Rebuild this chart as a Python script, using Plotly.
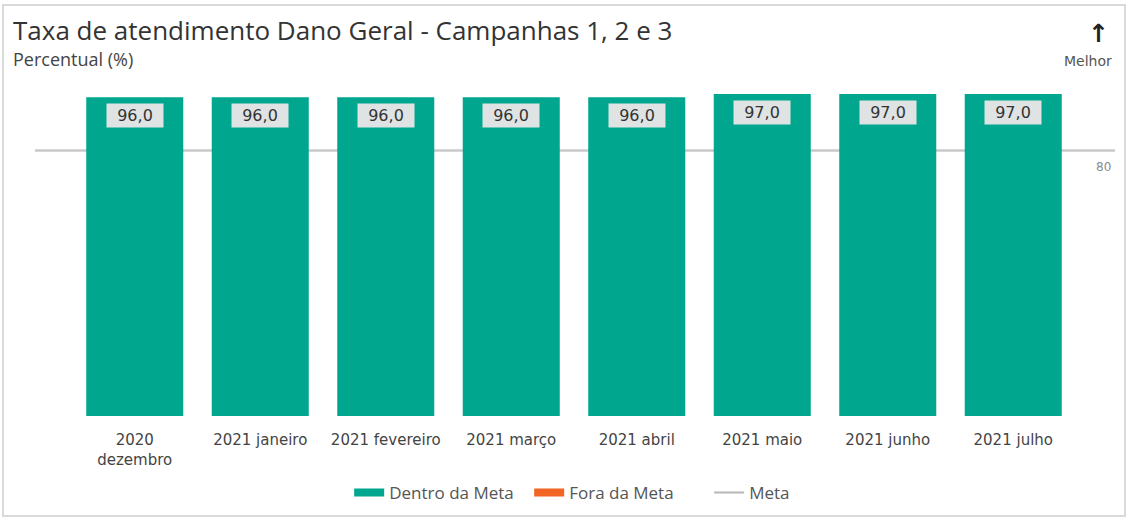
import plotly.graph_objects as go

categories = ["2020<br>dezembro", "2021 janeiro", "2021 fevereiro", "2021 março",
              "2021 abril", "2021 maio", "2021 junho", "2021 julho"]
dentro_values = [96.0, 96.0, 96.0, 96.0, 96.0, 97.0, 97.0, 97.0]
meta_value = 80
labels = [f"{v:.1f}".replace(".", ",") for v in dentro_values]

W, H = 1128, 519
ml, mr, mt, mb = 72, 52, 84, 103
pw, ph = W - ml - mr, H - mt - mb

def px_x(px):
    return (px - ml) / pw

def px_y(py):
    return (H - mb - py) / ph

TEAL = "#00a78e"
ORANGE = "#f26522"
fig = go.Figure()
fig.add_trace(go.Bar(x=categories, y=dentro_values, name="Dentro da Meta",
                     marker=dict(color=TEAL, line=dict(width=0)), hoverinfo="x+y",
                     showlegend=False, legendgroup="d"))
fig.add_trace(go.Scatter(x=[None], y=[None], mode="lines", name="Dentro da Meta",
                         line=dict(color=TEAL, width=8), legendgroup="d"))
fig.add_trace(go.Scatter(x=[None], y=[None], mode="lines", name="Fora da Meta",
                         line=dict(color=ORANGE, width=8)))
fig.add_trace(go.Scatter(x=[None], y=[None], mode="lines", name="Meta",
                         line=dict(color="#b5b5b5", width=2)))

for c, v, t in zip(categories, dentro_values, labels):
    fig.add_annotation(x=c, y=v, text=t, showarrow=False, yshift=-18.5,
                       bgcolor="#dfe3e3", borderpad=0, width=56, height=23,
                       font=dict(family="DejaVu Sans", size=16, color="#333333"))

# Meta line
fig.add_shape(type="line", xref="paper", yref="y", x0=px_x(35), x1=px_x(1115),
              y0=meta_value, y1=meta_value, line=dict(color="#c9c9c9", width=2.5),
              layer="below")
fig.add_annotation(xref="paper", yref="y", x=px_x(1103), y=meta_value, yshift=-17,
                   xanchor="center", yanchor="middle",
                   text=str(meta_value), showarrow=False,
                   font=dict(family="DejaVu Sans", size=12, color="#8a8a8a"))

# Card border
fig.add_shape(type="rect", xref="paper", yref="paper", x0=px_x(3), x1=px_x(1125),
              y0=px_y(516), y1=px_y(5), line=dict(color="#d9d9d9", width=2),
              layer="below")

# Title & subtitle
fig.add_annotation(xref="paper", yref="paper", x=px_x(11), y=px_y(30),
                   xanchor="left", yanchor="middle",
                   text="Taxa de atendimento Dano Geral - Campanhas 1, 2 e 3",
                   showarrow=False, font=dict(family="Open Sans", size=26, color="#333333"))
fig.add_annotation(xref="paper", yref="paper", x=px_x(11), y=px_y(59),
                   xanchor="left", yanchor="middle",
                   text="Percentual (%)", showarrow=False,
                   font=dict(family="Open Sans", size=18, color="#444444"))
fig.add_annotation(xref="paper", yref="paper", x=px_x(1098), y=px_y(33),
                   xanchor="center", yanchor="middle",
                   text="<b>↑</b>", showarrow=False,
                   font=dict(family="DejaVu Sans", size=25, color="#222222"))
fig.add_annotation(xref="paper", yref="paper", x=px_x(1088), y=px_y(61),
                   xanchor="center", yanchor="middle",
                   text="Melhor", showarrow=False,
                   font=dict(family="DejaVu Sans", size=14, color="#555555"))

fig.update_layout(
    width=W, height=H,
    margin=dict(l=ml, r=mr, t=mt, b=mb, autoexpand=False),
    paper_bgcolor="white", plot_bgcolor="white",
    barmode="group", bargap=0.227,
    showlegend=True,
    legend=dict(orientation="h", x=0.545, xanchor="center",
                yref="container", y=1 - 493 / H, yanchor="middle",
                font=dict(family="Open Sans", size=17, color="#555555"),
                itemwidth=30, entrywidth=135, traceorder="normal"),
    xaxis=dict(showgrid=False, showline=False, ticks="", ticklabelstandoff=13,
               automargin=False,
               tickfont=dict(family="DejaVu Sans", size=15, color="#444444")),
    yaxis=dict(range=[0, 100], visible=False, showgrid=False, zeroline=False,
               automargin=False),
)

fig.write_html(
    "out.html", config={"displayModeBar": False},
    post_script=("document.documentElement.style.margin='0';"
                 "document.documentElement.style.overflow='hidden';"
                 "document.body.style.margin='0';"
                 "document.body.style.overflow='hidden';"))
